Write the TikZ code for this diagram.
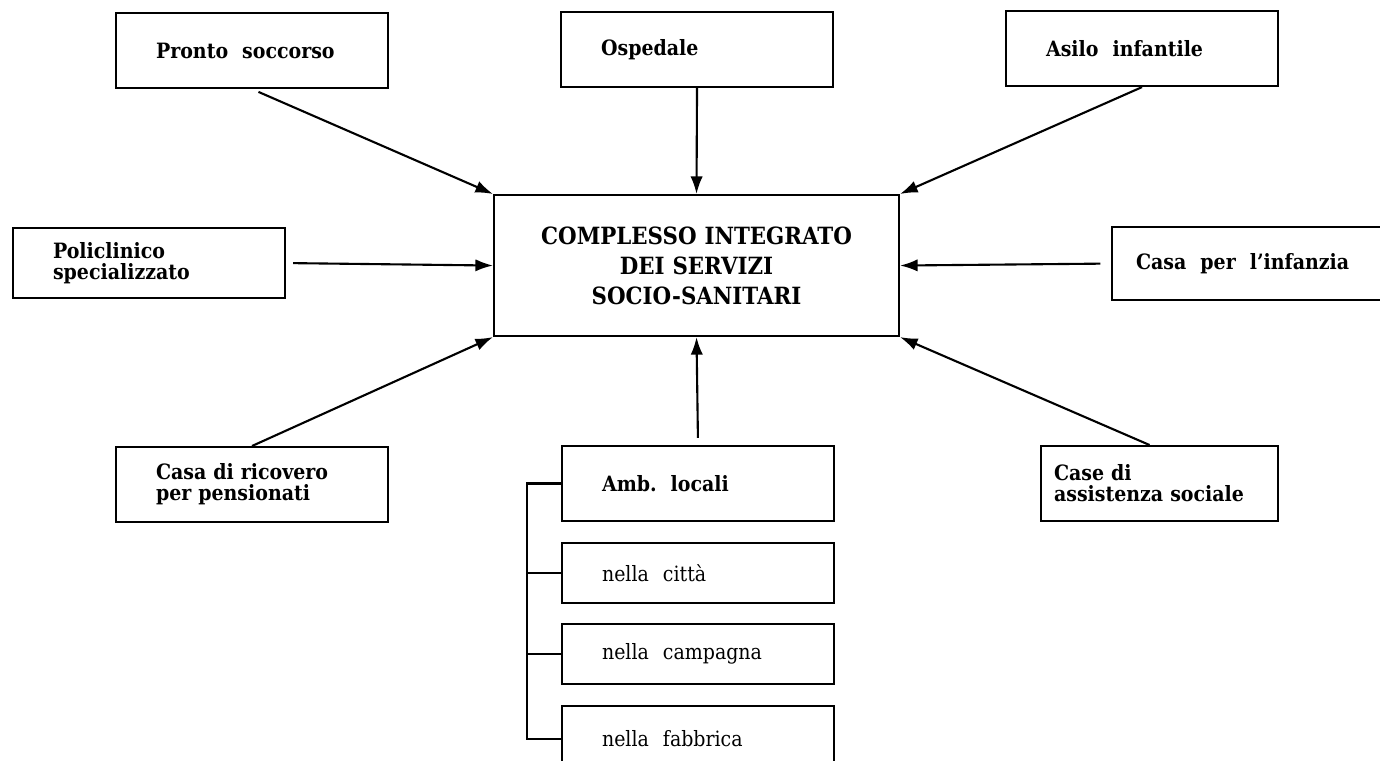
\documentclass[tikz,border=0pt]{standalone}
\usepackage{fontspec}
\setmainfont{DejaVu Serif Condensed}
\usetikzlibrary{arrows.meta}
\tikzset{
  box/.style={draw, line width=1.2pt, anchor=north west, align=left,
    inner xsep=0.8cm, text width=3.84cm, minimum height=1.5cm,
    font=\fontsize{12}{12}\selectfont\bfseries},
  freccia/.style={line width=1.2pt, -{Latex[length=10pt,width=7pt]}}
}
\begin{document}
\begin{tikzpicture}[x=0.02cm,y=-0.02cm]
\useasboundingbox (0,0) rectangle (1380,761);
% centro
\node[box, align=center, inner xsep=0pt, text width=8.1cm, minimum height=2.82cm,
  font=\fontsize{13.5}{17}\selectfont\bfseries] (centro) at (493,194)
  {COMPLESSO INTEGRATO\\DEI SERVIZI\\SOCIO-SANITARI};
% intorno
\node[box] (pronto) at (115,12) {Pronto\ \ soccorso};
\node[box] (ospedale) at (560,11) {Ospedale};
\node[box] (asilo) at (1005,10) {Asilo\ \ infantile};
\node[box, minimum height=1.4cm] (policlinico) at (12,227) {Policlinico\\specializzato};
\node[box, inner xsep=0.48cm, text width=4.66cm, minimum height=1.46cm] (infanzia) at (1111,226) {Casa\ \ per\ \ l'infanzia};
\node[box] (ricovero) at (115,446) {Casa di ricovero\\per pensionati};
\node[box, inner xsep=0.26cm, text width=4.22cm] (assistenza) at (1040,445) {Case di\\assistenza sociale};
% ambulatori
\node[box] (ambulatori) at (561,445) {Amb.\ \ locali};
\node[box, minimum height=1.2cm, font=\fontsize{12}{12}\selectfont] (citta) at (561,542) {nella\ \ città};
\node[box, minimum height=1.2cm, font=\fontsize{12}{12}\selectfont] (campagna) at (561,623) {nella\ \ campagna};
\node[box, minimum height=1.3cm, font=\fontsize{12}{12}\selectfont] (fabbrica) at (561,705) {nella\ \ fabbrica};
% frecce
\draw[freccia, shorten <=4pt] (pronto.south) -- (centro.north west);
\draw[freccia] (ospedale.south) -- (centro.north);
\draw[freccia] (asilo.south) -- (centro.north east);
\draw[freccia, shorten <=4pt] (policlinico.east) -- (centro.west);
\draw[freccia, shorten <=6pt] (infanzia.west) -- (centro.east);
\draw[freccia] (ricovero.north) -- (centro.south west);
\draw[freccia] ([xshift=-0.2cm]assistenza.north) -- (centro.south east);
\draw[freccia, shorten <=4pt] (ambulatori.north) -- (centro.south);
% parentesi
\draw[line width=1.2pt] (ambulatori.west) -- ++(-34,0) |- (fabbrica.west);
\draw[line width=1.2pt] (citta.west) -- ++(-34,0);
\draw[line width=1.2pt] (campagna.west) -- ++(-34,0);
\end{tikzpicture}
\end{document}
